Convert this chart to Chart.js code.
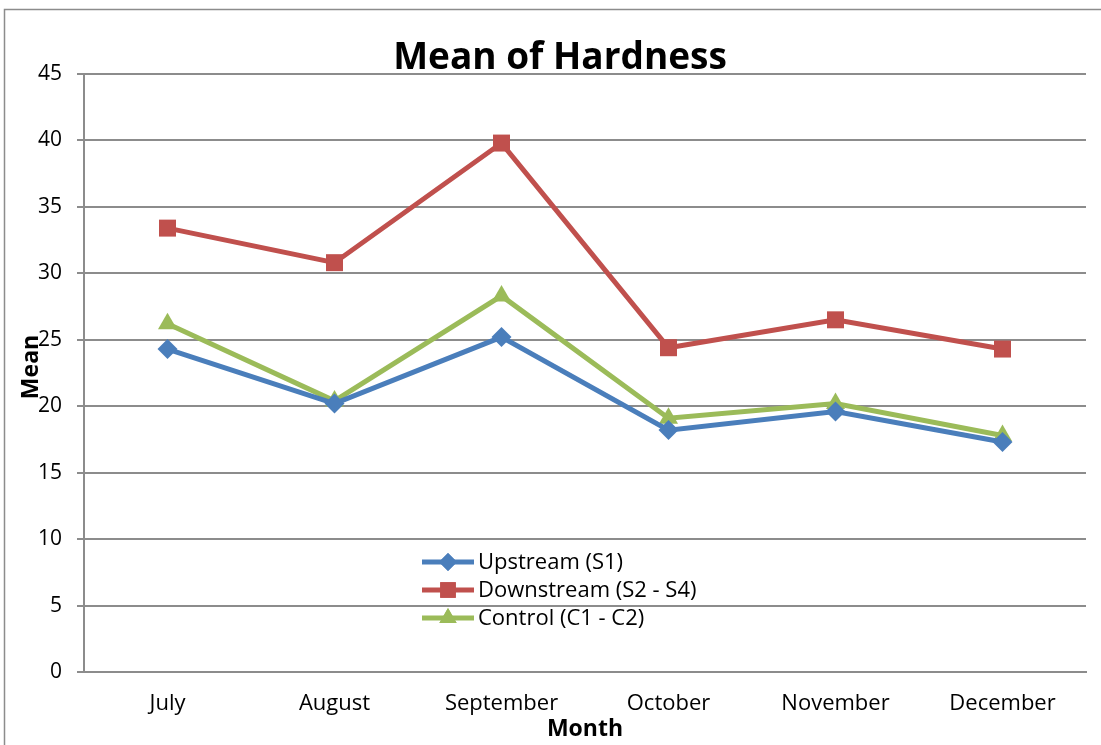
<!DOCTYPE html>
<html>
<head>
<meta charset="utf-8">
<script src="https://cdn.jsdelivr.net/npm/chart.js@4.4.0/dist/chart.umd.min.js"></script>
<style>
  html, body { margin: 0; padding: 0; background: #fff; }
  #wrap { position: relative; width: 1101px; height: 745px; }
</style>
</head>
<body>
<div id="wrap"><canvas id="hardnessChart" width="1101" height="745"></canvas></div>
<script>
// data
const months = ['July', 'August', 'September', 'October', 'November', 'December'];
const upstream = [24.3, 20.2, 25.2, 18.2, 19.6, 17.3];
const downstream = [33.4, 30.8, 39.8, 24.4, 26.5, 24.3];
const control = [26.2, 20.4, 28.3, 19.1, 20.2, 17.8];
const yTicks = [0, 5, 10, 15, 20, 25, 30, 35, 40, 45];

const FONT = '"Open Sans", Lato, sans-serif';
const GRID = '#8c8c8c';

Chart.defaults.color = '#000';
Chart.defaults.font.family = FONT;

// outer frame, rotated "Mean" axis title and the in-plot legend
const decorations = {
    id: 'decorations',
    beforeDraw(chart) {
        const ctx = chart.ctx;
        ctx.save();
        ctx.strokeStyle = GRID;
        ctx.lineWidth = 1.5;
        ctx.strokeRect(4.5, 9.5, 1200, 800);
        ctx.restore();
    },
    afterDraw(chart) {
        const ctx = chart.ctx;
        const area = chart.chartArea;

        ctx.save();
        ctx.translate(31, 367);
        ctx.rotate(-Math.PI / 2);
        ctx.font = 'bold 23px ' + FONT;
        ctx.fillStyle = '#000';
        ctx.textAlign = 'center';
        ctx.textBaseline = 'middle';
        ctx.fillText('Mean', 0, 0);
        ctx.restore();

        // legend
        const lx = area.left + 338;
        let ly = 562;
        chart.data.datasets.forEach(ds => {
            ctx.save();
            ctx.strokeStyle = ds.borderColor;
            ctx.lineWidth = 5;
            ctx.beginPath();
            ctx.moveTo(lx, ly);
            ctx.lineTo(lx + 52, ly);
            ctx.stroke();
            ctx.fillStyle = ds.backgroundColor;
            Chart.helpers.drawPoint(ctx, {
                pointStyle: ds.pointStyle,
                radius: ds.pointRadius - 1,
                rotation: 0,
                borderWidth: 0
            }, lx + 26, ly);
            ctx.fill();
            ctx.font = '22px ' + FONT;
            ctx.fillStyle = '#000';
            ctx.textAlign = 'left';
            ctx.textBaseline = 'middle';
            ctx.fillText(ds.label, lx + 56, ly + 1);
            ctx.restore();
            ly += 28;
        });
    }
};

const ctx = document.getElementById('hardnessChart').getContext('2d');
new Chart(ctx, {
    type: 'line',
    data: {
        labels: months,
        datasets: [{
            label: 'Upstream (S1)',
            data: upstream,
            borderColor: '#4a7ebb',
            backgroundColor: '#4a7ebb',
            pointStyle: 'rectRot',
            pointRadius: 10
        }, {
            label: 'Downstream (S2 - S4)',
            data: downstream,
            borderColor: '#c0504d',
            backgroundColor: '#c0504d',
            pointStyle: 'rect',
            pointRadius: 12
        }, {
            label: 'Control (C1 - C2)',
            data: control,
            borderColor: '#9bbb59',
            backgroundColor: '#9bbb59',
            pointStyle: 'triangle',
            pointRadius: 11
        }].map(ds => Object.assign(ds, {
            borderWidth: 5,
            tension: 0,
            fill: false,
            pointBorderWidth: 0,
            pointHoverRadius: ds.pointRadius
        }))
    },
    plugins: [decorations],
    options: {
        responsive: false,
        animation: false,
        layout: {
            padding: { left: 34, right: 15, top: 24, bottom: 0 }
        },
        plugins: {
            legend: { display: false },
            tooltip: { enabled: false },
            title: {
                display: true,
                text: 'Mean of Hardness',
                font: { size: 37, weight: 'bold', lineHeight: 0.85 },
                padding: { top: 18.5, bottom: 0 }
            }
        },
        scales: {
            x: {
                offset: true,
                grid: { display: false, drawTicks: false },
                border: { display: true, color: GRID, width: 2 },
                ticks: { font: { size: 22 }, padding: 19, maxRotation: 0 },
                title: {
                    display: true,
                    text: 'Month',
                    font: { size: 23, weight: 'bold', lineHeight: 1.2 },
                    padding: { top: 0, bottom: 2 }
                },
                afterFit(scale) { scale.height = 73; }
            },
            y: {
                min: 0,
                max: 45,
                afterBuildTicks(scale) { scale.ticks = yTicks.map(v => ({ value: v })); },
                grid: { color: GRID, lineWidth: 2, tickLength: 7, drawTicks: true },
                border: { display: true, color: GRID, width: 2 },
                ticks: { font: { size: 21 }, padding: 15 },
                afterFit(scale) { scale.width = 50; }
            }
        }
    }
});
</script>
</body>
</html>
